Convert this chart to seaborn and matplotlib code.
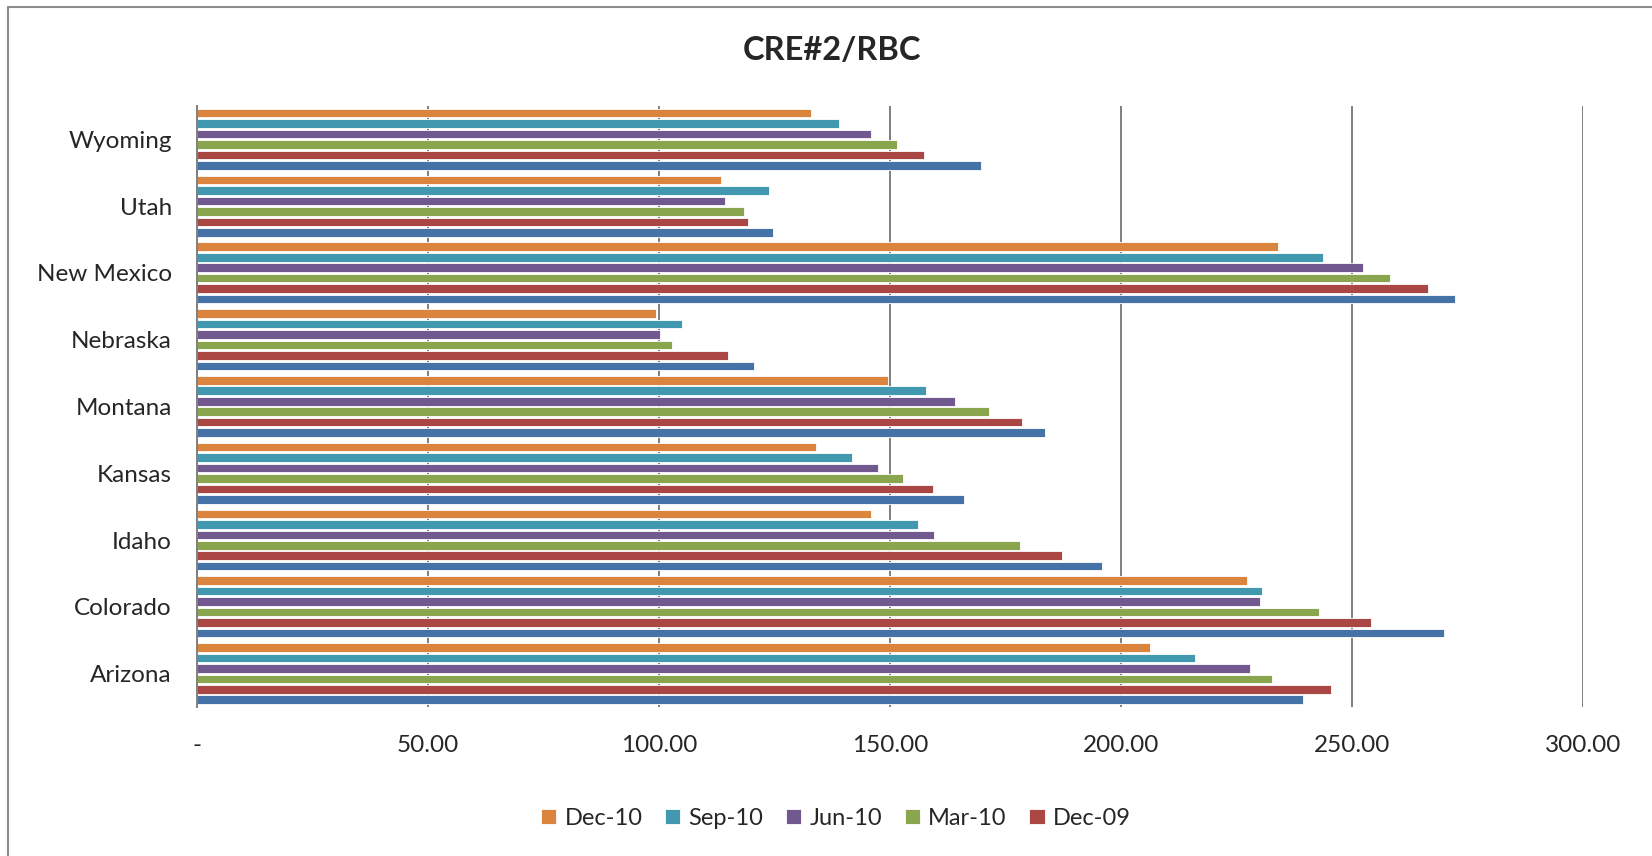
import pandas as pd
import matplotlib
matplotlib.use("Agg")
import matplotlib.pyplot as plt
from matplotlib.lines import Line2D
import seaborn as sns

# Values (top to bottom)
states = ['Wyoming', 'Utah', 'New Mexico', 'Nebraska', 'Montana',
          'Kansas', 'Idaho', 'Colorado', 'Arizona']
periods = ['Dec-10', 'Sep-10', 'Jun-10', 'Mar-10', 'Dec-09', 'Sep-09']

dec10 = [133.0, 113.5, 234.0, 99.3, 149.5, 134.0, 145.8, 227.2, 206.2]
sep10 = [139.0, 123.9, 243.7, 104.9, 157.9, 141.8, 156.0, 230.5, 216.1]
jun10 = [145.9, 114.4, 252.3, 100.2, 164.0, 147.4, 159.6, 230.0, 228.0]
mar10 = [151.5, 118.5, 258.2, 102.8, 171.4, 152.9, 178.2, 242.8, 232.8]
dec09 = [157.3, 119.3, 266.5, 115.0, 178.5, 159.4, 187.3, 254.2, 245.5]
sep09 = [169.8, 124.7, 272.2, 120.5, 183.5, 166.1, 196.0, 270.0, 239.5]

x_ticks = [0, 50, 100, 150, 200, 250, 300]
x_tick_labels = ['-', '50.00', '100.00', '150.00', '200.00', '250.00', '300.00']

colors = ['#DB843D', '#4198AF', '#71588F', '#89A54E', '#AA4643', '#4572A7']

# Long format for seaborn
series = [dec10, sep10, jun10, mar10, dec09, sep09]
rows = []
for period, values in zip(periods, series):
    for state, v in zip(states, values):
        rows.append({'State': state, 'Period': period, 'Value': v})
df = pd.DataFrame(rows)

sns.set_theme(style='white')
plt.rcParams['font.family'] = ['Lato', 'DejaVu Sans']

fig = plt.figure(figsize=(16.52, 8.56), dpi=100)
ax = fig.add_axes([0.1192, 0.1741, 0.8390, 0.7021])

sns.barplot(data=df, y='State', x='Value', hue='Period', orient='h',
            order=states, hue_order=periods, palette=colors,
            width=0.94, gap=0.18, saturation=1, ax=ax,
            edgecolor='white', linewidth=0.6)

ax.set_xlim(0, 300)
ax.set_xticks(x_ticks)
ax.set_xticklabels(x_tick_labels)
ax.set_xlabel('')
ax.set_ylabel('')
ax.grid(axis='x', color='#7f7f7f', linewidth=1.4)
ax.set_axisbelow(True)
for side in ['top', 'right', 'bottom']:
    ax.spines[side].set_visible(False)
ax.spines['left'].set_color('#7f7f7f')
ax.spines['left'].set_linewidth(1.4)
ax.tick_params(axis='y', length=0, pad=18, labelsize=17.5)
ax.tick_params(axis='x', length=0, pad=20, labelsize=17.5)

# Legend: Excel cut off the last series, keep the first five
handles, labels = ax.get_legend_handles_labels()
if ax.get_legend() is not None:
    ax.get_legend().remove()
fig.legend(handles[:5], labels[:5], loc='center', bbox_to_anchor=(0.506, 0.044),
           ncol=5, frameon=False, fontsize=17, handlelength=0.65,
           handleheight=0.65, handletextpad=0.35, columnspacing=0.95)

fig.text(0.5034, 0.9407, 'CRE#2/RBC', ha='center', va='center',
         fontsize=23.5, fontweight='bold')

# Chart area frame (only top and left edges visible)
fig.add_artist(Line2D([8 / 1652, 1.0], [1 - 7 / 856, 1 - 7 / 856],
                      transform=fig.transFigure, color='#8c8c8c', linewidth=1.5))
fig.add_artist(Line2D([8 / 1652, 8 / 1652], [0.0, 1 - 7 / 856],
                      transform=fig.transFigure, color='#8c8c8c', linewidth=1.5))

fig.savefig('out.png', dpi=100)
